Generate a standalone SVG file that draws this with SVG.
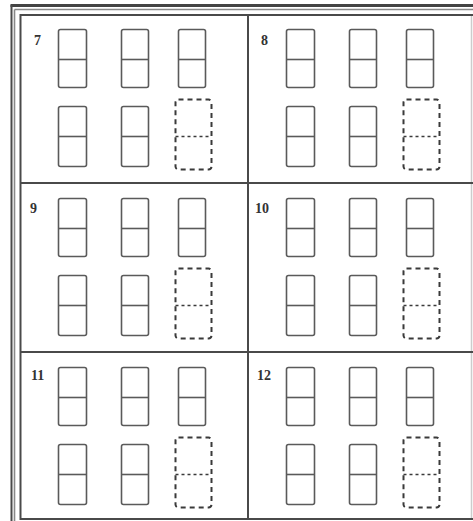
<svg xmlns="http://www.w3.org/2000/svg" xmlns:xlink="http://www.w3.org/1999/xlink" width="473" height="521" viewBox="0 0 473 521">
<style>
.frame{fill:none;stroke:#4a4a4a;stroke-width:2}
.thin{fill:none;stroke:#888;stroke-width:1.6}
.box{fill:#fff;stroke:#5a5a5a;stroke-width:1.6}
.mid{stroke:#5a5a5a;stroke-width:1.6}
.dash{fill:#fff;stroke:#3a3a3a;stroke-width:2;stroke-dasharray:5 4}
.dmid{stroke:#3a3a3a;stroke-width:1.6;stroke-dasharray:3 3}
.lbl{font-family:"Liberation Serif","DejaVu Serif",serif;font-weight:bold;font-size:14px;fill:#333}
</style>
<defs>
<g id="pat">
<rect class="box" x="58.5" y="29.5" width="28" height="58" rx="2"/>
<line class="mid" x1="58.5" y1="59.5" x2="86.5" y2="59.5"/>
<rect class="box" x="121.5" y="29.5" width="27" height="58" rx="2"/>
<line class="mid" x1="121.5" y1="59.5" x2="148.5" y2="59.5"/>
<rect class="box" x="178.5" y="29.5" width="27" height="58" rx="2"/>
<line class="mid" x1="178.5" y1="59.5" x2="205.5" y2="59.5"/>
<rect class="box" x="58.5" y="106.5" width="28" height="60" rx="2"/>
<line class="mid" x1="58.5" y1="136.5" x2="86.5" y2="136.5"/>
<rect class="box" x="121.5" y="106.5" width="27" height="60" rx="2"/>
<line class="mid" x1="121.5" y1="136.5" x2="148.5" y2="136.5"/>
<rect class="dash" x="175.5" y="99.5" width="36" height="70" rx="3"/>
<line class="dmid" x1="175.5" y1="136.5" x2="211.5" y2="136.5"/>
</g>
</defs>
<rect width="473" height="521" fill="#fff"/>
<g id="frame">
<line x1="10.5" y1="5.5" x2="473" y2="5.5" stroke="#444" stroke-width="3"/>
<line class="frame" x1="11.5" y1="5" x2="11.5" y2="521"/>
<line class="thin" x1="14.5" y1="9.5" x2="14.5" y2="521"/>
<line class="thin" x1="14.5" y1="9.5" x2="473" y2="9.5"/>
<line x1="471.5" y1="15" x2="471.5" y2="519" stroke="#ccc" stroke-width="1.5"/>
<polyline class="frame" points="473,15 20.5,15 20.5,519 473,519"/>
<line class="frame" x1="248" y1="15" x2="248" y2="519"/>
<line class="frame" x1="20.5" y1="183" x2="473" y2="183"/>
<line class="frame" x1="20.5" y1="352" x2="473" y2="352"/>
</g>
<g id="cell7"><use xlink:href="#pat"/><text class="lbl" x="34" y="45">7</text></g>
<g id="cell8" transform="translate(228,0)"><use xlink:href="#pat"/><text class="lbl" x="33" y="45">8</text></g>
<g id="cell9" transform="translate(0,169)"><use xlink:href="#pat"/><text class="lbl" x="30" y="44">9</text></g>
<g id="cell10" transform="translate(228,169)"><use xlink:href="#pat"/><text class="lbl" x="27" y="44">10</text></g>
<g id="cell11" transform="translate(0,338)"><use xlink:href="#pat"/><text class="lbl" x="31" y="42">11</text></g>
<g id="cell12" transform="translate(228,338)"><use xlink:href="#pat"/><text class="lbl" x="29" y="42">12</text></g>
</svg>
